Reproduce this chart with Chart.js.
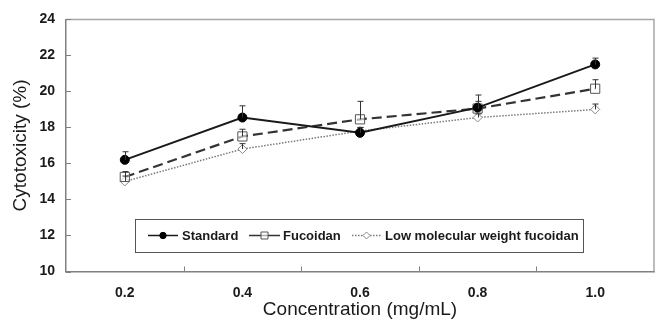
<!DOCTYPE html>
<html lang="en">
<head>
<meta charset="UTF-8">
<title>Cytotoxicity vs concentration</title>
<script src="https://cdn.jsdelivr.net/npm/chart.js@4.4.0/dist/chart.umd.min.js"></script>
<style>
  html, body { margin: 0; padding: 0; background: #fff; }
  #wrap { width: 664px; height: 325px; position: relative; }
</style>
</head>
<body>
<div id="wrap"><canvas id="chart"></canvas></div>
<script>
const concentrations = ['0.2', '0.4', '0.6', '0.8', '1.0'];
const standard = [16.2, 18.55, 17.7, 19.1, 21.5];
const standardErr = [0.45, 0.65, 0.3, 0.7, 0.35];
const fucoidan = [15.25, 17.5, 18.45, 19.05, 20.15];
const fucoidanErr = [0.3, 0.4, 1.0, 0.4, 0.5];
const lmwFucoidan = [15.0, 16.8, 17.8, 18.55, 19.0];
const lmwErr = [0.3, 0.3, 0.2, 0.2, 0.3];
const yTicks = [10, 12, 14, 16, 18, 20, 22, 24];
const errors = [standardErr, fucoidanErr, lmwErr];

// error bars (plus side only), inward tick marks, plot frame, legend box
const extras = {
    id: 'extras',
    afterDatasetsDraw(chart) {
        const ctx = chart.ctx;
        const x = chart.scales.x, y = chart.scales.y;
        ctx.save();
        ctx.strokeStyle = '#333';
        ctx.lineWidth = 1;
        chart.data.datasets.forEach((ds, i) => {
            ds.data.forEach((v, j) => {
                const e = errors[i][j];
                const px = Math.round(x.getPixelForValue(j)) + 0.5;
                const top = y.getPixelForValue(v + e);
                const mid = y.getPixelForValue(v);
                ctx.beginPath();
                ctx.moveTo(px, top); ctx.lineTo(px, mid);
                ctx.moveTo(px - 3, top); ctx.lineTo(px + 3, top);
                ctx.stroke();
            });
        });
        ctx.restore();
    },
    afterDraw(chart) {
        const ctx = chart.ctx;
        const a = chart.chartArea;
        const x = chart.scales.x, y = chart.scales.y;
        ctx.save();
        // top and right frame
        ctx.strokeStyle = '#a6a6a6';
        ctx.lineWidth = 1.5;
        ctx.beginPath();
        ctx.moveTo(a.left, a.top); ctx.lineTo(a.right, a.top); ctx.lineTo(a.right, a.bottom);
        ctx.stroke();
        // inward ticks
        ctx.strokeStyle = '#808080';
        ctx.lineWidth = 1;
        ctx.beginPath();
        yTicks.forEach(t => {
            const py = Math.round(y.getPixelForValue(t)) + 0.5;
            ctx.moveTo(a.left, py); ctx.lineTo(a.left + 5, py);
        });
        for (let j = 1; j < concentrations.length; j++) {
            const px = Math.round((x.getPixelForValue(j - 1) + x.getPixelForValue(j)) / 2) + 0.5;
            ctx.moveTo(px, a.bottom); ctx.lineTo(px, a.bottom - 5);
        }
        ctx.stroke();

        // legend box
        const bx = 135, by = 219, bw = 448, bh = 33;
        ctx.fillStyle = '#fff';
        ctx.fillRect(bx, by, bw, bh);
        ctx.strokeStyle = '#555';
        ctx.lineWidth = 1;
        ctx.strokeRect(bx + 0.5, by + 0.5, bw, bh);
        const items = [
            { x0: 148, x1: 178, tx: 182 },
            { x0: 249, x1: 280, tx: 283 },
            { x0: 352, x1: 381, tx: 385 }
        ];
        const cy = by + bh / 2;
        ctx.font = 'bold 13px "Liberation Sans", Arial, sans-serif';
        ctx.textBaseline = 'middle';
        chart.data.datasets.forEach((ds, i) => {
            const it = items[i];
            ctx.strokeStyle = ds.borderColor;
            ctx.lineWidth = Math.min(ds.borderWidth, 1.5);
            ctx.setLineDash(i === 2 ? [1.5, 1.5] : []);
            ctx.beginPath();
            ctx.moveTo(it.x0, cy); ctx.lineTo(it.x1, cy);
            ctx.stroke();
            ctx.setLineDash([]);
            const mx = (it.x0 + it.x1) / 2;
            ctx.lineWidth = 1;
            ctx.strokeStyle = ds.pointBorderColor;
            ctx.fillStyle = ds.pointBackgroundColor;
            ctx.beginPath();
            if (ds.pointStyle === 'circle') {
                ctx.arc(mx, cy, 3.2, 0, Math.PI * 2);
            } else if (ds.pointStyle === 'rect') {
                ctx.rect(mx - 3.5, cy - 3.5, 7, 7);
            } else {
                ctx.moveTo(mx, cy - 3.5); ctx.lineTo(mx + 3.5, cy);
                ctx.lineTo(mx, cy + 3.5); ctx.lineTo(mx - 3.5, cy); ctx.closePath();
            }
            ctx.fill();
            ctx.stroke();
            ctx.fillStyle = '#1a1a1a';
            ctx.fillText(ds.label, it.tx, cy + 0.5);
        });
        ctx.restore();
    }
};

const ctx = document.getElementById('chart').getContext('2d');
new Chart(ctx, {
    type: 'line',
    data: {
        labels: concentrations,
        datasets: [
            {
                label: 'Standard',
                data: standard,
                borderColor: '#1a1a1a',
                borderWidth: 2,
                pointStyle: 'circle',
                pointRadius: 4.5,
                pointBackgroundColor: '#000',
                pointBorderColor: '#000',
                pointBorderWidth: 1
            },
            {
                label: 'Fucoidan',
                data: fucoidan,
                borderColor: '#333',
                borderWidth: 2.2,
                borderDash: [10, 5],
                pointStyle: 'rect',
                pointRadius: 6.5,
                pointBackgroundColor: 'rgba(255,255,255,0.6)',
                pointBorderColor: '#555',
                pointBorderWidth: 1
            },
            {
                label: 'Low molecular weight fucoidan',
                data: lmwFucoidan,
                borderColor: '#7a7a7a',
                borderWidth: 1.5,
                borderDash: [1.5, 1.5],
                pointStyle: 'rectRot',
                pointRadius: 4.5,
                pointBackgroundColor: '#fff',
                pointBorderColor: '#888',
                pointBorderWidth: 1
            }
        ]
    },
    options: {
        responsive: true,
        maintainAspectRatio: false,
        animation: false,
        layout: { padding: { left: 0, right: 10, top: 14, bottom: 0 } },
        plugins: {
            legend: { display: false },
            tooltip: { enabled: false }
        },
        scales: {
            x: {
                offset: true,
                grid: { display: false, drawTicks: false },
                border: { display: true, color: '#808080', width: 1.5 },
                ticks: {
                    color: '#1a1a1a',
                    padding: 13,
                    font: { family: '"Liberation Sans", Arial, sans-serif', size: 14, weight: 'bold' }
                },
                title: {
                    display: true,
                    text: 'Concentration (mg/mL)',
                    color: '#1a1a1a',
                    padding: { top: 0, bottom: 4 },
                    font: { family: '"Liberation Sans", Arial, sans-serif', size: 19 }
                },
                afterFit: s => { s.height = 53.5; }
            },
            y: {
                min: 10,
                max: 24,
                afterBuildTicks: s => { s.ticks = yTicks.map(v => ({ value: v })); },
                grid: { display: false, drawTicks: false },
                border: { display: true, color: '#808080', width: 1.5 },
                ticks: {
                    color: '#1a1a1a',
                    padding: 11,
                    font: { family: '"Liberation Sans", Arial, sans-serif', size: 14, weight: 'bold' }
                },
                title: {
                    display: true,
                    text: 'Cytotoxicity (%)',
                    color: '#1a1a1a',
                    padding: { top: 9.5, bottom: 0 },
                    font: { family: '"Liberation Sans", Arial, sans-serif', size: 19 }
                },
                afterFit: s => { s.width = 66; }
            }
        }
    },
    plugins: [extras]
});
</script>
</body>
</html>
